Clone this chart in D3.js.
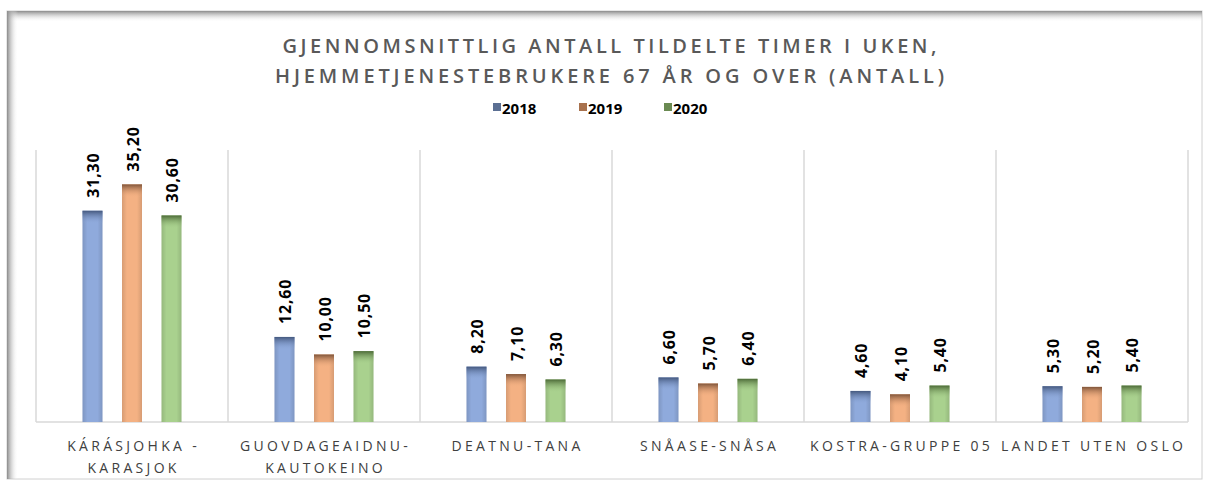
<!DOCTYPE html>
<html>
<head>
<meta charset="utf-8">
<script src="https://cdn.jsdelivr.net/npm/d3@7"></script>
<style>
  body { margin: 0; background: #fff; }
  svg { display: block; }
</style>
</head>
<body>
<div id="chart"></div>
<script>
// data
var categories = ['KÁRÁSJOHKA -|KARASJOK', 'GUOVDAGEAIDNU-|KAUTOKEINO', 'DEATNU-TANA', 'SNÅASE-SNÅSA', 'KOSTRA-GRUPPE 05', 'LANDET UTEN OSLO']
var years = ['2018', '2019', '2020']
var v2018 = [31.3, 12.6, 8.2, 6.6, 4.6, 5.3]
var v2019 = [35.2, 10.0, 7.1, 5.7, 4.1, 5.2]
var v2020 = [30.6, 10.5, 6.3, 6.4, 5.4, 5.4]
var titleLines = ['GJENNOMSNITTLIG ANTALL TILDELTE TIMER I UKEN,', 'HJEMMETJENESTEBRUKERE 67 ÅR OG OVER (ANTALL)']

var width = 1205, height = 484
var margin = {top: 152, right: 17, bottom: 62, left: 36}

var series = [v2018, v2019, v2020]
var rows = []
categories.forEach((c, i) => {
  years.forEach((y, j) => rows.push({cat: c, year: y, value: series[j][i]}))
})

var baseColor = {'2018': '#8faadc', '2019': '#f4b183', '2020': '#a9d18e'}
var topColor = {'2018': '#44587e', '2019': '#80553a', '2020': '#4c6a37'}
var legendColor = {'2018': '#5b6f93', '2019': '#a8714d', '2020': '#6a8a52'}

var svg = d3.select('#chart').append('svg')
  .attr('width', width)
  .attr('height', height)

var defs = svg.append('defs')

// frame shadow gradients
var gTop = defs.append('linearGradient').attr('id', 'shTop').attr('x1', 0).attr('y1', 0).attr('x2', 0).attr('y2', 1)
gTop.append('stop').attr('offset', 0).attr('stop-color', '#8c8c8c')
gTop.append('stop').attr('offset', 1).attr('stop-color', '#fff').attr('stop-opacity', 0)
var gLeft = defs.append('linearGradient').attr('id', 'shLeft').attr('x1', 0).attr('y1', 0).attr('x2', 1).attr('y2', 0)
gLeft.append('stop').attr('offset', 0).attr('stop-color', '#8c8c8c')
gLeft.append('stop').attr('offset', 1).attr('stop-color', '#fff').attr('stop-opacity', 0)

years.forEach(y => {
  var g = defs.append('linearGradient').attr('id', 'top' + y).attr('x1', 0).attr('y1', 0).attr('x2', 0).attr('y2', 1)
  g.append('stop').attr('offset', 0).attr('stop-color', topColor[y])
  g.append('stop').attr('offset', 1).attr('stop-color', baseColor[y]).attr('stop-opacity', 0)
})
var side = defs.append('linearGradient').attr('id', 'side').attr('x1', 0).attr('y1', 0).attr('x2', 1).attr('y2', 0)
side.append('stop').attr('offset', 0).attr('stop-color', '#000').attr('stop-opacity', 0.12)
side.append('stop').attr('offset', 0.25).attr('stop-color', '#000').attr('stop-opacity', 0)
side.append('stop').attr('offset', 0.75).attr('stop-color', '#000').attr('stop-opacity', 0)
side.append('stop').attr('offset', 1).attr('stop-color', '#000').attr('stop-opacity', 0.12)

// frame
svg.append('rect').attr('x', 7).attr('y', 11).attr('width', 1195).attr('height', 468)
  .attr('fill', '#fff').attr('stroke', '#d0d0d0').attr('stroke-width', 1)
svg.append('rect').attr('x', 7).attr('y', 11).attr('width', 1195).attr('height', 11).attr('fill', 'url(#shTop)')
svg.append('rect').attr('x', 7).attr('y', 11).attr('width', 11).attr('height', 468).attr('fill', 'url(#shLeft)')

// scales
var x0 = d3.scaleBand()
  .domain(categories)
  .range([margin.left, width - margin.right])

var x1 = d3.scaleBand()
  .domain(years)
  .range([46.5, 145.5])
  .paddingInner(0.494)

var yScale = d3.scaleLinear()
  .domain([0, 40])
  .range([422, margin.top])

// gridlines between categories
var bounds = categories.map(c => x0(c)).concat([x0.range()[1]])
svg.selectAll('line.grid')
  .data(bounds)
  .enter()
  .append('line')
  .attr('class', 'grid')
  .attr('x1', d => d).attr('x2', d => d)
  .attr('y1', yScale(40) - 2).attr('y2', yScale(0))
  .attr('stroke', '#d9d9d9')
  .attr('stroke-width', 1.5)

// baseline
svg.append('line')
  .attr('x1', x0.range()[0]).attr('x2', x0.range()[1])
  .attr('y1', yScale(0)).attr('y2', yScale(0))
  .attr('stroke', '#d9d9d9')
  .attr('stroke-width', 1.5)

// bars
var bars = svg.selectAll('g.bar')
  .data(rows)
  .enter()
  .append('g')
  .attr('class', 'bar')
  .attr('transform', d => `translate(${x0(d.cat) + x1(d.year)},0)`)

bars.append('rect')
  .attr('y', d => yScale(d.value))
  .attr('width', x1.bandwidth())
  .attr('height', d => yScale(0) - yScale(d.value))
  .attr('fill', d => baseColor[d.year])

bars.append('rect')
  .attr('y', d => yScale(d.value))
  .attr('width', x1.bandwidth())
  .attr('height', d => yScale(0) - yScale(d.value))
  .attr('fill', 'url(#side)')

bars.append('rect')
  .attr('y', d => yScale(d.value))
  .attr('width', x1.bandwidth())
  .attr('height', d => Math.min(13, yScale(0) - yScale(d.value)))
  .attr('fill', d => `url(#top${d.year})`)

// value labels
bars.append('text')
  .text(d => d3.format('.2f')(d.value).replace('.', ','))
  .attr('transform', d => `translate(${x1.bandwidth() / 2 + 1},${yScale(d.value) - 13}) rotate(-90)`)
  .attr('dy', '0.36em')
  .attr('font-family', 'Open Sans, sans-serif')
  .attr('font-weight', 700)
  .attr('font-size', '16px')
  .attr('letter-spacing', '0.8px')
  .attr('fill', '#000')

// x axis labels
var xl = svg.selectAll('text.xlab')
  .data(categories)
  .enter()
  .append('text')
  .attr('class', 'xlab')
  .attr('x', d => x0(d) + x0.bandwidth() / 2)
  .attr('y', 451)
  .attr('text-anchor', 'middle')
  .attr('font-family', 'Open Sans, sans-serif')
  .attr('font-size', '14px')
  .attr('letter-spacing', '3.3px')
  .attr('fill', '#404040')

xl.each(function(d) {
  var parts = d.split('|')
  d3.select(this).selectAll('tspan')
    .data(parts)
    .enter()
    .append('tspan')
    .attr('x', x0(d) + x0.bandwidth() / 2 + 1.6)
    .attr('dy', (p, i) => i === 0 ? 0 : 22)
    .text(p => p)
})

// title
var titleLen = [654, 669]
svg.selectAll('text.title')
  .data(titleLines)
  .enter()
  .append('text')
  .attr('class', 'title')
  .attr('x', width / 2 + 7)
  .attr('y', (d, i) => 53 + i * 30)
  .attr('text-anchor', 'middle')
  .attr('font-family', 'Open Sans, sans-serif')
  .attr('font-weight', 600)
  .attr('font-size', '20px')
  .attr('textLength', (d, i) => titleLen[i])
  .attr('lengthAdjust', 'spacing')
  .attr('fill', '#595959')
  .text(d => d)

// legend
var legendX = [493, 579, 664]
var lg = svg.selectAll('g.legend')
  .data(years)
  .enter()
  .append('g')
  .attr('class', 'legend')
  .attr('transform', (d, i) => `translate(${legendX[i]},103)`)

lg.append('rect')
  .attr('width', 8).attr('height', 8)
  .attr('fill', d => legendColor[d])

lg.append('text')
  .attr('x', 9).attr('y', 10.5)
  .attr('font-family', 'Open Sans, sans-serif')
  .attr('font-weight', 700)
  .attr('font-size', '15px')
  .attr('fill', '#000')
  .text(d => d)
</script>
</body>
</html>
